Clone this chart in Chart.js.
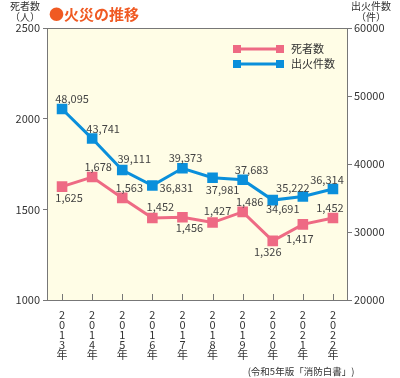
<!DOCTYPE html>
<html>
<head>
<meta charset="utf-8">
<script src="https://cdn.jsdelivr.net/npm/chart.js@4"></script>
<style>
body { margin: 0; background: #fff; }
#wrap { width: 400px; height: 378px; }
</style>
</head>
<body>
<div id="wrap"><canvas id="myChart" width="400" height="378"></canvas></div>
<script>
var years = ['2013', '2014', '2015', '2016', '2017', '2018', '2019', '2020', '2021', '2022'];
var deaths = [1625, 1678, 1563, 1452, 1456, 1427, 1486, 1326, 1417, 1452];
var fires = [48095, 43741, 39111, 36831, 39373, 37981, 37683, 34691, 35222, 36314];
var seriesNames = ['死者数', '出火件数'];
var leftTicks = [1000, 1500, 2000, 2500];
var rightTicks = [20000, 30000, 40000, 50000, 60000];

// where each value label sits relative to its marker
var deathLabelDx = [7, 6, 7, 8, 7, 5, 7, -5, -3, -3];
var deathLabelDy = [11, -10, -10, -11, 11, -12, -10, 11, 14, -10];
var fireLabelDx = [10, 11, 12, 24, 3, 10, 9, 10, -10, -6];
var fireLabelDy = [-10, -10, -11, 2, -10, 12, -10, 9, -9, -9];

var pink = '#EE6A84';
var blue = '#0A8FDB';
var jpFont = '"Noto Sans CJK JP", "Noto Sans", sans-serif';

// year labels stacked one character per line
var xLabels = years.map(function (y) { return (y + '年').split(''); });

var frame = {
    id: 'frame',
    beforeDraw: function (chart) {
        var a = chart.chartArea, ctx = chart.ctx;
        ctx.save();
        ctx.fillStyle = '#FFFDE6';
        ctx.fillRect(a.left, a.top, a.right - a.left, a.bottom - a.top);
        ctx.restore();
    },
    beforeDatasetsDraw: function (chart) {
        var a = chart.chartArea, ctx = chart.ctx;
        ctx.save();
        ctx.strokeStyle = '#777';
        ctx.lineWidth = 1;
        ctx.strokeRect(a.left + 0.5, a.top + 0.5, a.right - a.left - 1, a.bottom - a.top);
        // inward ticks on the category axis
        var xs = chart.scales.x;
        ctx.beginPath();
        for (var i = 0; i < years.length; i++) {
            var px = Math.round(xs.getPixelForTick(i)) + 0.5;
            ctx.moveTo(px, a.bottom);
            ctx.lineTo(px, a.bottom - 6);
        }
        ctx.stroke();
        ctx.restore();
    },
    afterDatasetsDraw: function (chart) {
        var ctx = chart.ctx;
        ctx.save();
        // value labels
        ctx.font = '11px ' + jpFont;
        ctx.fillStyle = '#444';
        ctx.textAlign = 'center';
        ctx.textBaseline = 'middle';
        var offs = [[deathLabelDx, deathLabelDy], [fireLabelDx, fireLabelDy]];
        chart.data.datasets.forEach(function (ds, di) {
            var meta = chart.getDatasetMeta(di);
            meta.data.forEach(function (pt, i) {
                ctx.fillText(ds.data[i].toLocaleString('en-US'), pt.x + offs[di][0][i], pt.y + offs[di][1][i]);
            });
        });

        // legend: line with square ends
        var colors = [pink, blue];
        ctx.textAlign = 'left';
        ctx.font = '11px ' + jpFont;
        for (var k = 0; k < 2; k++) {
            var ly = 49 + k * 15;
            ctx.strokeStyle = colors[k];
            ctx.lineWidth = 3;
            ctx.beginPath();
            ctx.moveTo(236, ly);
            ctx.lineTo(280, ly);
            ctx.stroke();
            ctx.fillStyle = colors[k];
            ctx.fillRect(233, ly - 4, 8, 8);
            ctx.fillRect(276, ly - 4, 8, 8);
            ctx.fillStyle = '#333';
            ctx.fillText(seriesNames[k], 291, ly);
        }

        // title and axis captions
        ctx.fillStyle = '#F05A23';
        ctx.font = 'bold 15px ' + jpFont;
        ctx.fillText('●火災の推移', 49, 14);

        ctx.fillStyle = '#333';
        ctx.font = '10px ' + jpFont;
        ctx.textAlign = 'center';
        ctx.fillText('死者数', 25, 6);
        ctx.fillText('（人）', 25, 17);
        ctx.fillText('出火件数', 371, 6);
        ctx.fillText('（件）', 371, 17);

        ctx.font = '9.5px ' + jpFont;
        ctx.fillText('(令和5年版「消防白書」)', 301, 371);
        ctx.restore();
    }
};

var ctx = document.getElementById('myChart').getContext('2d');
var myChart = new Chart(ctx, {
    type: 'line',
    data: {
        labels: xLabels,
        datasets: [{
            label: seriesNames[0],
            data: deaths,
            yAxisID: 'y',
            borderColor: pink,
            backgroundColor: pink,
            borderWidth: 3,
            pointStyle: 'rect',
            pointRadius: 7.5,
            pointBorderWidth: 0,
            tension: 0
        }, {
            label: seriesNames[1],
            data: fires,
            yAxisID: 'y2',
            borderColor: blue,
            backgroundColor: blue,
            borderWidth: 3,
            pointStyle: 'rect',
            pointRadius: 7.5,
            pointBorderWidth: 0,
            tension: 0
        }]
    },
    options: {
        responsive: false,
        animation: false,
        layout: { padding: { top: 28, left: 0, right: 0, bottom: 0 } },
        plugins: {
            legend: { display: false },
            tooltip: { enabled: false }
        },
        scales: {
            x: {
                offset: true,
                grid: { display: false },
                border: { display: false },
                ticks: {
                    maxRotation: 0,
                    autoSkip: false,
                    padding: 2,
                    color: '#333',
                    font: { family: jpFont, size: 11, lineHeight: '10px' }
                },
                afterFit: function (s) { s.height = 78; }
            },
            y: {
                position: 'left',
                min: leftTicks[0],
                max: leftTicks[leftTicks.length - 1],
                afterBuildTicks: function (s) { s.ticks = leftTicks.map(function (v) { return { value: v }; }); },
                grid: { drawOnChartArea: false, drawTicks: true, tickLength: 4, color: '#777' },
                border: { display: false },
                ticks: {
                    padding: 3,
                    color: '#333',
                    font: { family: jpFont, size: 11 },
                    callback: function (v) { return String(v); }
                },
                afterFit: function (s) { s.width = 47; }
            },
            y2: {
                position: 'right',
                min: rightTicks[0],
                max: rightTicks[rightTicks.length - 1],
                afterBuildTicks: function (s) { s.ticks = rightTicks.map(function (v) { return { value: v }; }); },
                grid: { drawOnChartArea: false, drawTicks: true, tickLength: 4, color: '#777' },
                border: { display: false },
                ticks: {
                    padding: 2,
                    color: '#333',
                    font: { family: jpFont, size: 11 },
                    callback: function (v) { return String(v); }
                },
                afterFit: function (s) { s.width = 52; }
            }
        }
    },
    plugins: [frame]
});
</script>
</body>
</html>
